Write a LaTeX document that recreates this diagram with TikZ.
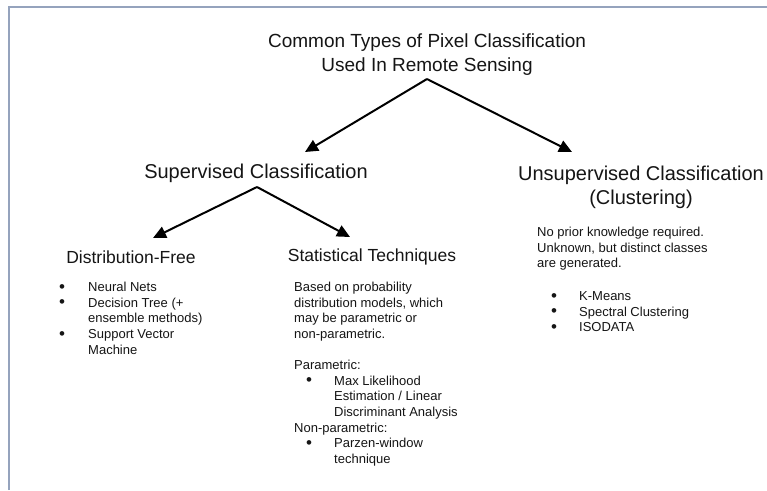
\documentclass[tikz,border=0pt]{standalone}
\usepackage{fontspec}
\setmainfont{Liberation Sans}
\usetikzlibrary{arrows.meta}
\definecolor{bordercol}{HTML}{95A3BD}
\definecolor{txt}{HTML}{151515}
\newcommand{\bul}[2]{\makebox[#2][l]{\hspace*{#1}\raisebox{-0.6pt}{\fontsize{17}{17}\selectfont •}}}
\begin{document}
\begin{tikzpicture}[x=1pt,y=-1pt,
  every node/.style={inner sep=0pt, text=txt},
  arr/.style={line width=2pt, -{Triangle[length=13pt,width=12pt]}},
  titlefont/.style={font=\fontsize{19}{24}\selectfont, align=center},
  bigfont/.style={font=\fontsize{20}{24}\selectfont, align=center},
  headfont/.style={font=\fontsize{17.5}{21}\selectfont},
  bodyfont/.style={font=\fontsize{13}{15.6}\selectfont, align=left, anchor=north west},
]
\useasboundingbox (0,0) rectangle (767,490);
\fill[white] (0,0) rectangle (767,490);
\draw[bordercol, line width=2pt] (9,490) -- (9,7) -- (767,7);

\node[titlefont] (title) at (427,55) {Common Types of Pixel Classification\\Used In Remote Sensing};
\node[bigfont] (sup) at (256,173) {Supervised Classification};
\node[bigfont] (unsup) at (641,187) {Unsupervised Classification\\(Clustering)};
\node[headfont] (dfree) at (131,257) {Distribution-Free};
\node[headfont] (stat) at (372,257) {Statistical Techniques};

\node[bodyfont] (dlist) at (57,282) {\bul{2pt}{31pt}Neural Nets\\
\bul{2pt}{31pt}Decision Tree (+\\
\hspace*{31pt}ensemble methods)\\
\bul{2pt}{31pt}Support Vector\\
\hspace*{31pt}Machine};

\node[bodyfont] (slist) at (294,282) {Based on probability\\
distribution models, which\\
may be parametric or\\
non-parametric.\\[15.6pt]
Parametric:\\
\bul{12pt}{40pt}Max Likelihood\\
\hspace*{40pt}Estimation / Linear\\
\hspace*{40pt}Discriminant Analysis\\
Non-parametric:\\
\bul{12pt}{40pt}Parzen-window\\
\hspace*{40pt}technique};

\node[bodyfont] (ulist) at (537,227) {No prior knowledge required.\\
Unknown, but distinct classes\\
are generated.\\[17pt]
\bul{14pt}{42pt}K-Means\\
\bul{14pt}{42pt}Spectral Clustering\\
\bul{14pt}{42pt}ISODATA};

\coordinate (apex1) at (427,79);
\coordinate (tipA) at (305,152);
\coordinate (tipB) at (572,152);
\coordinate (apex2) at (257,187);
\coordinate (tipC) at (153,238);
\coordinate (tipD) at (350,237);
\draw[arr] (apex1) -- (tipA);
\draw[arr] (apex1) -- (tipB);
\draw[arr] (apex2) -- (tipC);
\draw[arr] (apex2) -- (tipD);
\end{tikzpicture}
\end{document}
